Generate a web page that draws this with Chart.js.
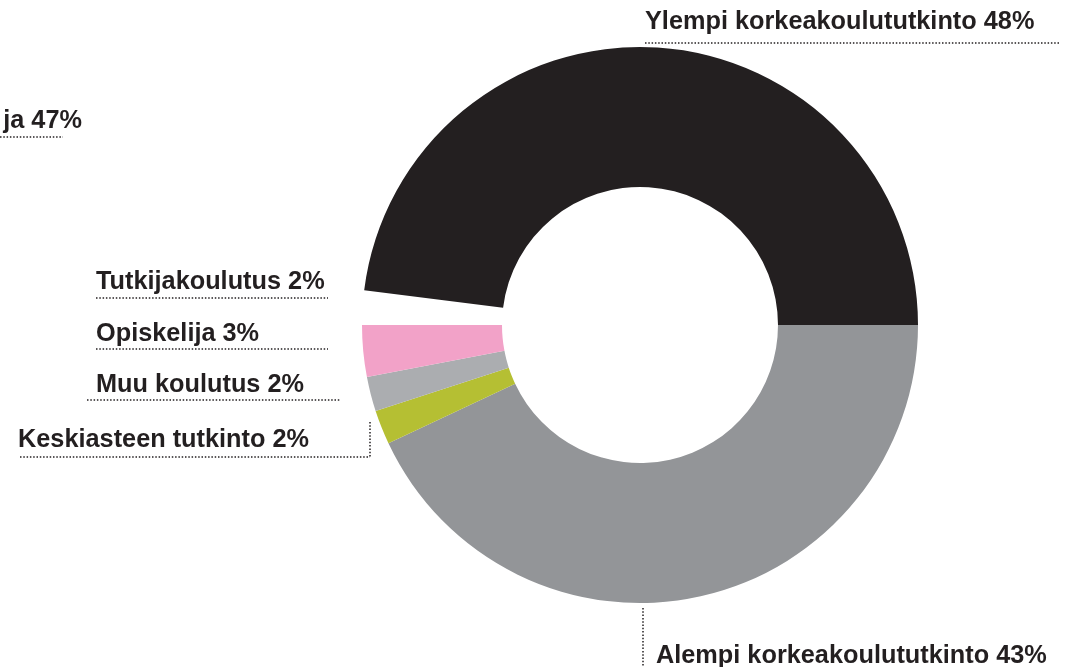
<!DOCTYPE html>
<html>
<head>
<meta charset="utf-8">
<script src="https://cdn.jsdelivr.net/npm/chart.js@4.4.1/dist/chart.umd.min.js"></script>
<style>
html,body{margin:0;padding:0;background:#fff;}
#wrap{width:1073px;height:667px;position:relative;}
</style>
</head>
<body>
<div id="wrap"><canvas id="c" width="1073" height="667"></canvas></div>
<script>
// Data (clockwise from 3 o'clock)
const categories = ["Alempi korkeakoulututkinto", "Keskiasteen tutkinto", "Muu koulutus", "Opiskelija", "Tutkijakoulutus", "Ylempi korkeakoulututkinto"];
const values = [43, 2, 2, 3, 2, 48];
const colors = ["#939598", "#b5bf33", "#abadb0", "#f2a2c8", "rgba(255,255,255,0)", "#231f20"];
const extraLabel = "ja 47%";

const labelLayout = [
  {i:0, x:656, y:663, align:'left', lines:[[643,608,643,667]]},
  {i:1, x:18, y:447, align:'left', lines:[[20,457,370,457],[370,422,370,457]]},
  {i:2, x:96, y:392, align:'left', lines:[[87,400,341,400]]},
  {i:3, x:96, y:341, align:'left', lines:[[96,349,328,349]]},
  {i:4, x:96, y:289, align:'left', lines:[[96,298,328,298]]},
  {i:5, x:645, y:29, align:'left', lines:[[645,43,1060,43]]}
];

const labelPlugin = {
  id: 'labels',
  afterDraw(chart) {
    const ctx = chart.ctx;
    ctx.save();
    ctx.fillStyle = '#231f20';
    ctx.strokeStyle = '#231f20';
    ctx.font = 'bold 25.3px "Liberation Sans", Arial, sans-serif';
    ctx.textBaseline = 'alphabetic';
    const drawDots = (x1,y1,x2,y2) => {
      ctx.beginPath();
      ctx.lineWidth = 1.5;
      ctx.setLineDash([1.5, 1.8]);
      ctx.moveTo(x1,y1); ctx.lineTo(x2,y2);
      ctx.stroke();
    };
    labelLayout.forEach(l => {
      ctx.textAlign = l.align;
      ctx.fillText(categories[l.i] + ' ' + values[l.i] + '%', l.x, l.y);
      l.lines.forEach(s => drawDots(...s));
    });
    ctx.textAlign = 'right';
    ctx.fillText(extraLabel, 82, 128);
    drawDots(0,137,63,137);
    ctx.restore();
  }
};

new Chart(document.getElementById('c'), {
  type: 'doughnut',
  data: {
    labels: categories,
    datasets: [{
      data: values,
      backgroundColor: colors,
      borderWidth: 0,
      hoverOffset: 0
    }]
  },
  options: {
    responsive: false,
    animation: false,
    rotation: 90,
    cutout: 138,
    layout: { padding: { left: 362, right: 155, top: 47, bottom: 64 } },
    plugins: { legend: { display: false }, tooltip: { enabled: false } },
    events: []
  },
  plugins: [labelPlugin]
});
</script>
</body>
</html>
